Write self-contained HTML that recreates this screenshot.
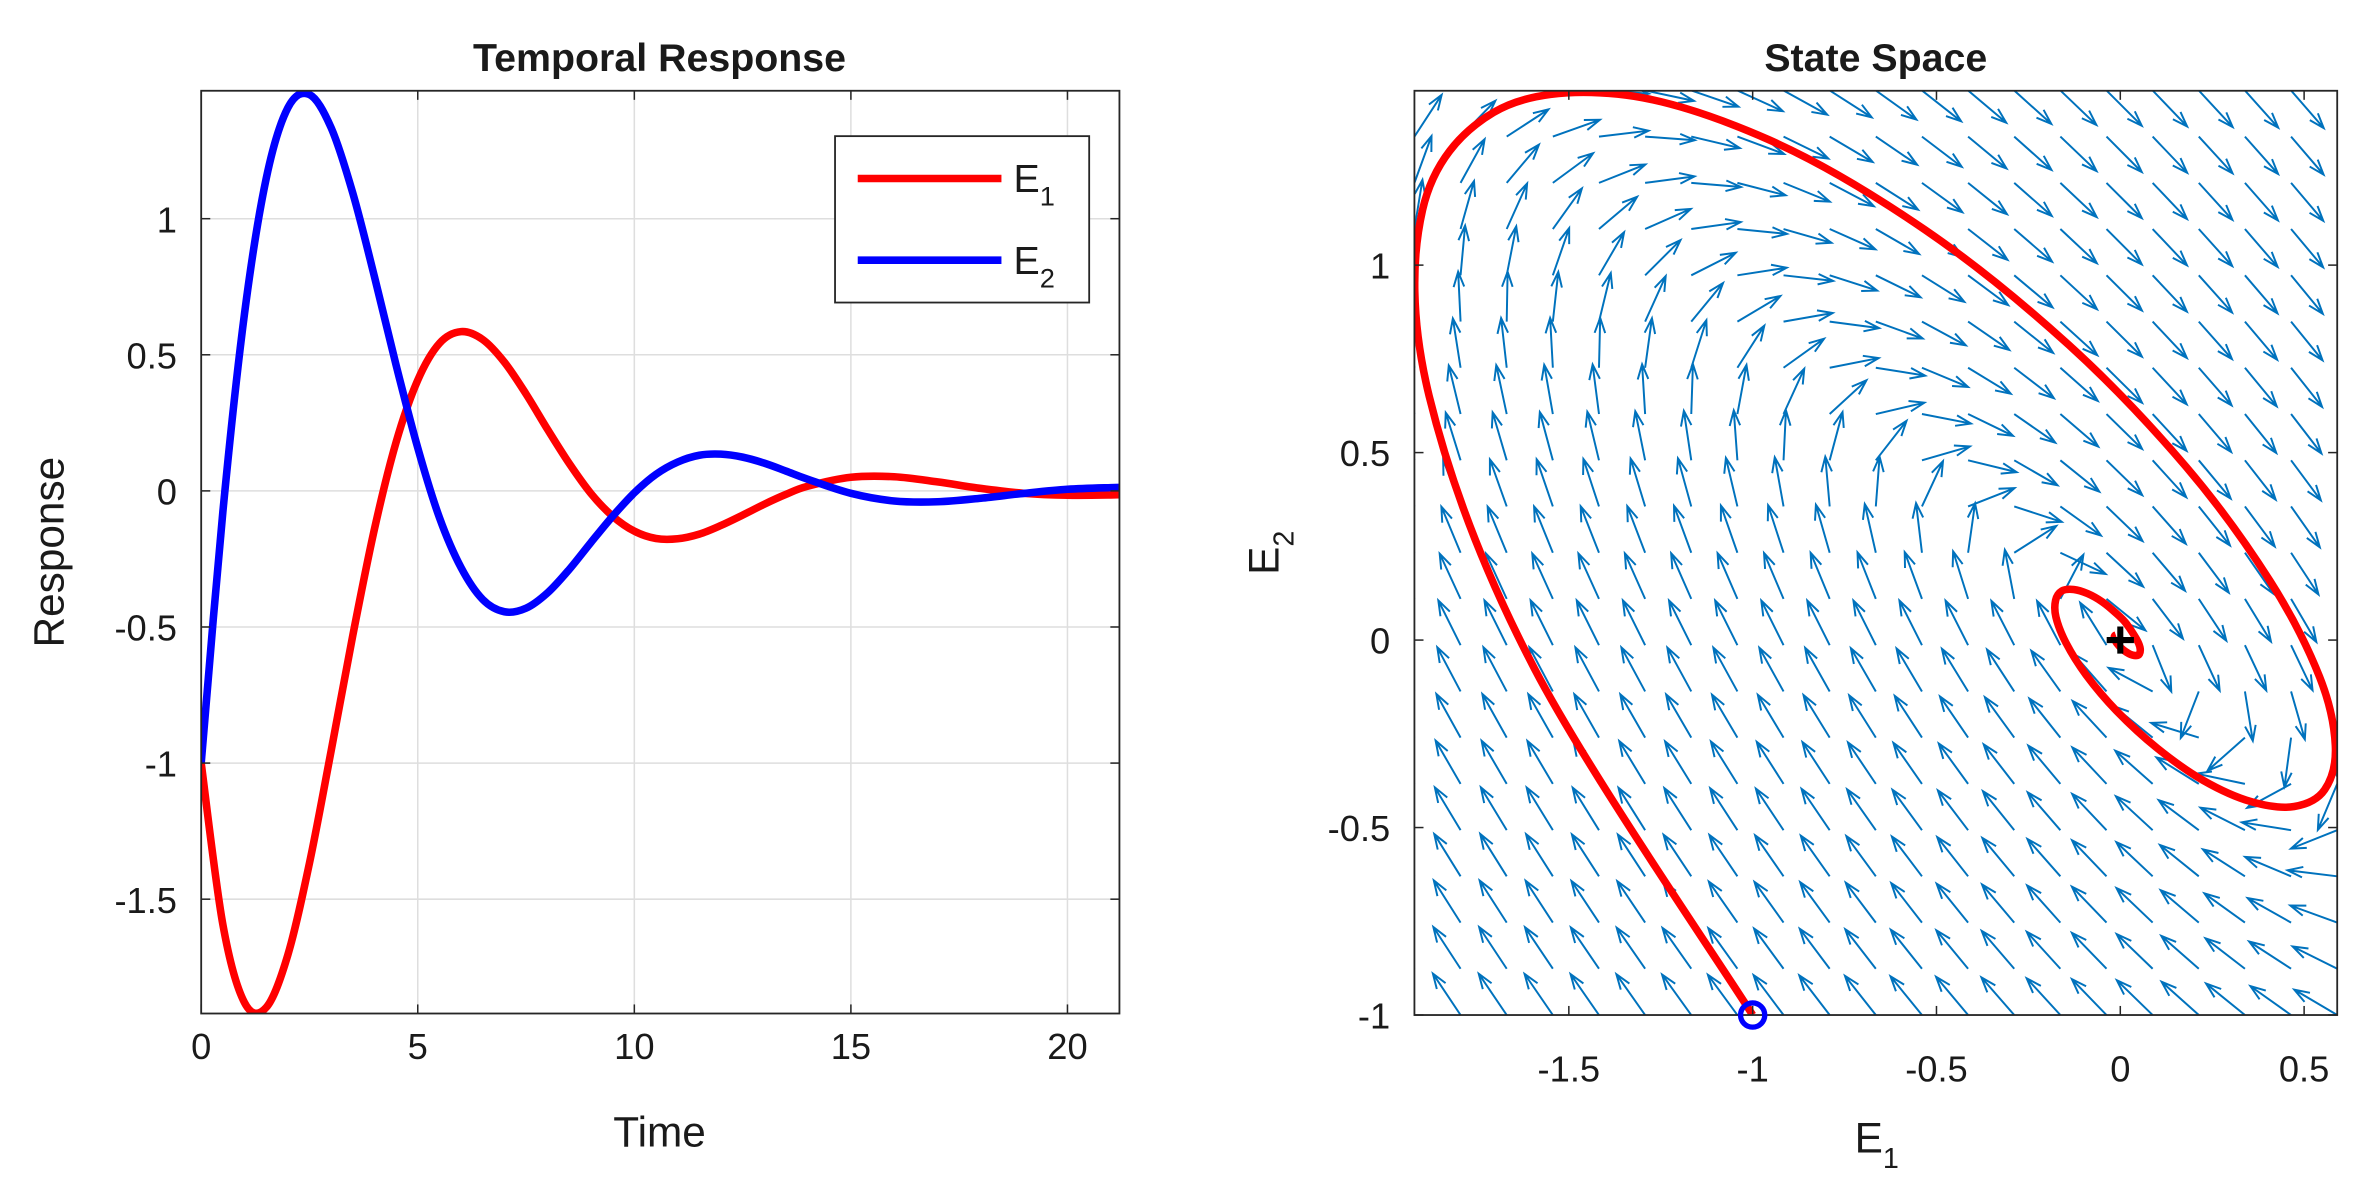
<!DOCTYPE html>
<html><head><meta charset="utf-8"><style>
html,body{margin:0;padding:0;background:#fff;}
svg{display:block;}
text{font-family:"Liberation Sans",Arial,sans-serif;fill:#1a1a1a;}
</style></head><body>
<svg id="fig" width="2372" height="1197" viewBox="0 0 1568 791.3" preserveAspectRatio="none" xmlns="http://www.w3.org/2000/svg">
<defs>
<clipPath id="clipL"><rect x="133" y="60" width="607" height="610"/></clipPath>
<clipPath id="clipR"><rect x="935" y="60" width="610" height="611"/></clipPath>
</defs>
<g id="left"></g>
<g id="right"></g>
</svg>
<script>
const timeValues = [0,0.5,1,1.5,2,2.5,3,3.5,4,4.5,5,5.5,6,6.5,7,7.5,8,8.5,9,9.5,10,10.5,11,11.5,12,12.5,13,13.5,14,15,16,17,18,19,20,21,21.5];
const e1Values = [-1,-1.593,-1.880,-1.898,-1.705,-1.367,-0.955,-0.531,-0.140,0.179,0.407,0.542,0.585,0.556,0.473,0.356,0.225,0.100,-0.010,-0.093,-0.148,-0.175,-0.176,-0.159,-0.127,-0.089,-0.049,-0.013,0.017,0.050,0.052,0.033,0.009,-0.009,-0.016,-0.015,-0.012];
const e2Values = [-1,-0.077,0.651,1.147,1.407,1.456,1.334,1.094,0.787,0.462,0.158,-0.098,-0.282,-0.399,-0.444,-0.431,-0.374,-0.288,-0.189,-0.093,-0.007,0.061,0.106,0.131,0.135,0.124,0.102,0.073,0.043,-0.009,-0.037,-0.040,-0.027,-0.009,0.006,0.012,0.013];
const leftXTicks = [0,5,10,15,20];
const leftYTicks = [1,0.5,0,-0.5,-1,-1.5];
const leftYTickLabels = ["1","0.5","0","-0.5","-1","-1.5"];
const rightXTicks = [-1.5,-1,-0.5,0,0.5];
const rightXTickLabels = ["-1.5","-1","-0.5","0","0.5"];
const rightYTicks = [1,0.5,0,-0.5,-1];
const rightYTickLabels = ["1","0.5","0","-0.5","-1"];
const systemRow1 = [0.5,1.0];
const systemRow2 = [-1.0,-1.0];
const initialState = [-1,-1];
const equilibrium = [0,0];

const NS="http://www.w3.org/2000/svg";
function mk(tag,attrs,parent){const e=document.createElementNS(NS,tag);for(const k in attrs)e.setAttribute(k,attrs[k]);parent.appendChild(e);return e;}
function lin(d0,d1,p0,p1){return v=>p0+(v-d0)/(d1-d0)*(p1-p0);}
function spline(pts){let d="M"+pts[0][0].toFixed(2)+","+pts[0][1].toFixed(2);
 for(let i=0;i<pts.length-1;i++){const p0=pts[Math.max(i-1,0)],p1=pts[i],p2=pts[i+1],p3=pts[Math.min(i+2,pts.length-1)];
 const c1=[p1[0]+(p2[0]-p0[0])/6,p1[1]+(p2[1]-p0[1])/6],c2=[p2[0]-(p3[0]-p1[0])/6,p2[1]-(p3[1]-p1[1])/6];
 d+="C"+c1.map(v=>v.toFixed(2))+" "+c2.map(v=>v.toFixed(2))+" "+p2.map(v=>v.toFixed(2));}
 return d;}

// LEFT
const L=document.getElementById('left');
const lx=lin(0,21.2,133,740), ly=lin(-1.92,1.47,670,60);
mk('rect',{x:133,y:60,width:607,height:610,fill:'#fff'},L);
leftXTicks.forEach(t=>{const g=mk('line',{x1:lx(t),x2:lx(t),y1:60,y2:670,stroke:'#dedede','stroke-width':1},L);
});
leftYTicks.forEach(t=>{const g=mk('line',{x1:133,x2:740,y1:ly(t),y2:ly(t),stroke:'#dedede','stroke-width':1},L);
});
const gl=mk('g',{'clip-path':'url(#clipL)'},L);
const p1=mk('path',{d:spline(timeValues.map((t,i)=>[lx(t),ly(e1Values[i])])),fill:'none',stroke:'#ff0000','stroke-width':5,'stroke-linejoin':'round'},gl);

const p2=mk('path',{d:spline(timeValues.map((t,i)=>[lx(t),ly(e2Values[i])])),fill:'none',stroke:'#0000ff','stroke-width':5,'stroke-linejoin':'round'},gl);

mk('rect',{x:133,y:60,width:607,height:610,fill:'none',stroke:'#262626','stroke-width':1.2},L);
leftXTicks.forEach(t=>{mk('line',{x1:lx(t),x2:lx(t),y1:670,y2:664,stroke:'#262626'},L);mk('line',{x1:lx(t),x2:lx(t),y1:60,y2:66,stroke:'#262626'},L);
const tx=mk('text',{x:lx(t),y:700,'text-anchor':'middle','font-size':24},L);tx.textContent=t;
});
leftYTicks.forEach((t,i)=>{mk('line',{x1:133,x2:139,y1:ly(t),y2:ly(t),stroke:'#262626'},L);mk('line',{x1:740,x2:734,y1:ly(t),y2:ly(t),stroke:'#262626'},L);
const tx=mk('text',{x:117,y:ly(t)+9,'text-anchor':'end','font-size':24},L);tx.textContent=leftYTickLabels[i];
});
let t1=mk('text',{x:436,y:47,'text-anchor':'middle','font-size':26,'font-weight':'bold',fill:'#000'},L);t1.textContent='Temporal Response';

let xl=mk('text',{x:436,y:758,'text-anchor':'middle','font-size':28},L);xl.textContent='Time';

let yl=mk('text',{x:0,y:0,'text-anchor':'middle','font-size':28,transform:'translate(42,365) rotate(-90)'},L);yl.textContent='Response';

const lg=mk('g',{},L);

mk('rect',{x:552,y:90,width:168,height:110,fill:'#fff',stroke:'#262626','stroke-width':1.2},lg);
mk('line',{x1:567,x2:662,y1:118,y2:118,stroke:'#ff0000','stroke-width':5},lg);
mk('line',{x1:567,x2:662,y1:172,y2:172,stroke:'#0000ff','stroke-width':5},lg);
let le1=mk('text',{x:670,y:127,'font-size':26,fill:'#000'},lg);le1.innerHTML='E<tspan font-size="18" dy="9">1</tspan>';

let le2=mk('text',{x:670,y:181,'font-size':26,fill:'#000'},lg);le2.innerHTML='E<tspan font-size="18" dy="9">2</tspan>';


// RIGHT
const R=document.getElementById('right');
const rx=lin(-1.92,0.59,935,1545), ry=lin(-1,1.465,671,60);
mk('rect',{x:935,y:60,width:610,height:611,fill:'#fff'},R);
const gr=mk('g',{'clip-path':'url(#clipR)'},R);
const qg=mk('g',{stroke:'#0072bd','stroke-width':1.3,fill:'none','stroke-linejoin':'miter'},gr);

const arrowLen=33;
for(let i=0;i<21;i++){for(let j=0;j<21;j++){
 const x=-1.92+i*0.1255, y=-1+j*0.1233;
 const u=systemRow1[0]*x+systemRow1[1]*y, v=systemRow2[0]*x+systemRow2[1]*y;
 const X0=rx(x),Y0=ry(y);
 const sdx=u*242, sdy=-v*246, m=Math.hypot(sdx,sdy); if(m<1e-6)continue;
 const ux=sdx/m,uy=sdy/m;
 const X1=X0+ux*arrowLen,Y1=Y0+uy*arrowLen,h=10,w=3.5;
 const a=mk('path',{d:`M${X0.toFixed(1)},${Y0.toFixed(1)}L${X1.toFixed(1)},${Y1.toFixed(1)}M${(X1-h*ux+w*uy).toFixed(1)},${(Y1-h*uy-w*ux).toFixed(1)}L${X1.toFixed(1)},${Y1.toFixed(1)}L${(X1-h*ux-w*uy).toFixed(1)},${(Y1-h*uy+w*ux).toFixed(1)}`},qg);
 
}}
const tr=mk('path',{d:spline(e1Values.map((e,i)=>[rx(e),ry(e2Values[i])])),fill:'none',stroke:'#ff0000','stroke-width':5,'stroke-linejoin':'round'},gr);

mk('rect',{x:935,y:60,width:610,height:611,fill:'none',stroke:'#262626','stroke-width':1.2},R);
const st=mk('circle',{cx:rx(initialState[0]),cy:ry(initialState[1]),r:8,fill:'none',stroke:'#0000ff','stroke-width':3.5},R);

const eq=mk('path',{d:`M${rx(equilibrium[0])-9},${ry(equilibrium[1])}h18M${rx(equilibrium[0])},${ry(equilibrium[1])-9}v18`,stroke:'#000','stroke-width':4},R);

rightXTicks.forEach((t,i)=>{mk('line',{x1:rx(t),x2:rx(t),y1:671,y2:665,stroke:'#262626'},R);mk('line',{x1:rx(t),x2:rx(t),y1:60,y2:66,stroke:'#262626'},R);
const tx=mk('text',{x:rx(t),y:715,'text-anchor':'middle','font-size':24},R);tx.textContent=rightXTickLabels[i];
});
rightYTicks.forEach((t,i)=>{mk('line',{x1:935,x2:941,y1:ry(t),y2:ry(t),stroke:'#262626'},R);mk('line',{x1:1545,x2:1539,y1:ry(t),y2:ry(t),stroke:'#262626'},R);
const tx=mk('text',{x:919,y:ry(t)+9,'text-anchor':'end','font-size':24},R);tx.textContent=rightYTickLabels[i];
});
let t2=mk('text',{x:1240,y:47,'text-anchor':'middle','font-size':26,'font-weight':'bold',fill:'#000'},R);t2.textContent='State Space';

let rxl=mk('text',{x:1226,y:762,'font-size':28},R);rxl.innerHTML='E<tspan font-size="19" dy="10">1</tspan>';

let ryl=mk('text',{x:0,y:0,'font-size':28,transform:'translate(845,380) rotate(-90)'},R);ryl.innerHTML='E<tspan font-size="19" dy="10">2</tspan>';

</script>
</body></html>
